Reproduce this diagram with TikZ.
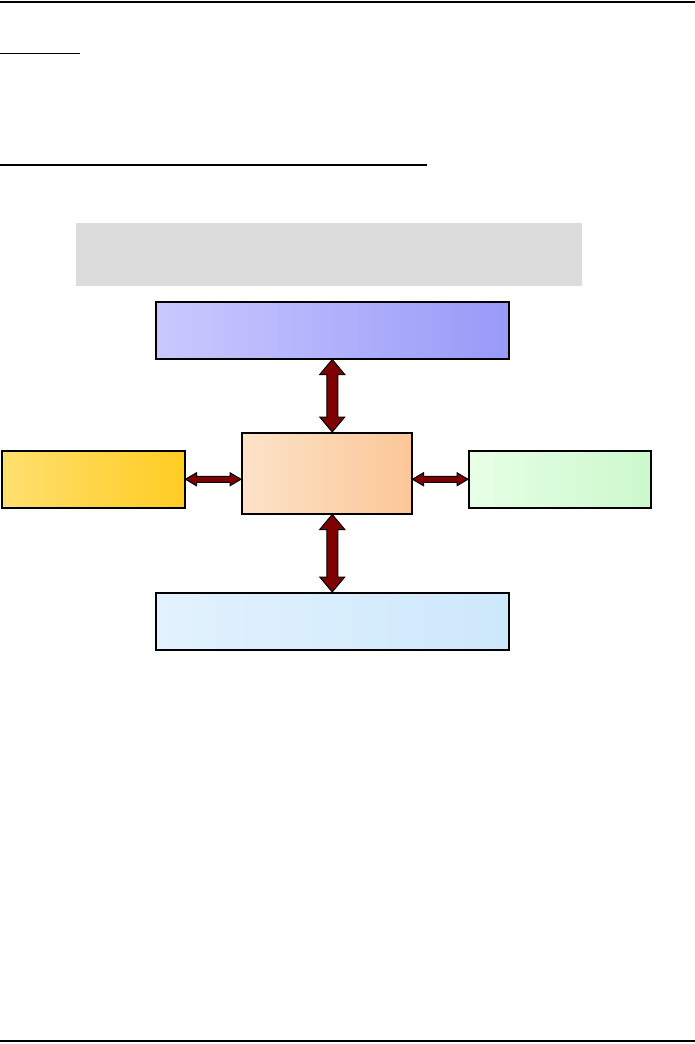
\documentclass[tikz,border=0pt]{standalone}
\usetikzlibrary{calc}
\definecolor{arrowred}{HTML}{7F0000}
\begin{document}
\begin{tikzpicture}[x=1pt,y=-1pt,
  box/.style={draw=black,line width=1.5pt,inner sep=0pt,anchor=north west},
  rule/.style={draw=black},
  blockarrow/.style={draw=black,fill=arrowred,line width=1pt,line join=miter}]
\useasboundingbox (0,0) rectangle (695,1044);
% page rules
\draw[rule,line width=2pt] (0,1.5) -- (695,1.5);
\draw[rule,line width=1pt] (0,53) -- (80,53);
\draw[rule,line width=2pt] (0,165) -- (427,165);
\draw[rule,line width=2pt] (0,1041) -- (695,1041);
% grey banner
\fill[fill={rgb,255:red,220;green,220;blue,220}] (76,223) rectangle (582,286);
% boxes
\node[box,minimum width=353pt,minimum height=57pt,left color={rgb,255:red,201;green,201;blue,255},right color={rgb,255:red,153;green,153;blue,248}] (top) at (155,301) {};
\node[box,minimum width=170pt,minimum height=81pt,left color={rgb,255:red,253;green,227;blue,201},right color={rgb,255:red,251;green,199;blue,151}] (center) at (241,432) {};
\node[box,minimum width=183pt,minimum height=57pt,left color={rgb,255:red,255;green,224;blue,112},right color={rgb,255:red,255;green,204;blue,34}] (left) at (1,450) {};
\node[box,minimum width=182pt,minimum height=57pt,left color={rgb,255:red,230;green,255;blue,230},right color={rgb,255:red,204;green,248;blue,204}] (right) at (468,450) {};
\node[box,minimum width=353pt,minimum height=57pt,left color={rgb,255:red,227;green,242;blue,254},right color={rgb,255:red,205;green,232;blue,251}] (bottom) at (155,592) {};
% vertical double block arrows
\draw[blockarrow] let \p1=(top.south), \p2=(center.north) in
  (\x1,\y1) -- (\x1+12.5pt,\y1-15pt) -- (\x1+5.5pt,\y1-15pt) -- (\x1+5.5pt,\y2+15pt) -- (\x1+12.5pt,\y2+15pt) -- (\x1,\y2)
  -- (\x1-12.5pt,\y2+15pt) -- (\x1-5.5pt,\y2+15pt) -- (\x1-5.5pt,\y1-15pt) -- (\x1-12.5pt,\y1-15pt) -- cycle;
\draw[blockarrow] let \p1=(bottom.north), \p2=(center.south) in
  (\x1,\y2) -- (\x1+12.5pt,\y2-15pt) -- (\x1+5.5pt,\y2-15pt) -- (\x1+5.5pt,\y1+15pt) -- (\x1+12.5pt,\y1+15pt) -- (\x1,\y1)
  -- (\x1-12.5pt,\y1+15pt) -- (\x1-5.5pt,\y1+15pt) -- (\x1-5.5pt,\y2-15pt) -- (\x1-12.5pt,\y2-15pt) -- cycle;
% horizontal double block arrows
\draw[blockarrow] let \p1=(left.east), \p2=(center.west) in
  (\x1,\y1) -- (\x1+11pt,\y1+6.5pt) -- (\x1+11pt,\y1+3pt) -- (\x2-11pt,\y1+3pt) -- (\x2-11pt,\y1+6.5pt) -- (\x2,\y1)
  -- (\x2-11pt,\y1-6.5pt) -- (\x2-11pt,\y1-3pt) -- (\x1+11pt,\y1-3pt) -- (\x1+11pt,\y1-6.5pt) -- cycle;
\draw[blockarrow] let \p1=(right.west), \p2=(center.east) in
  (\x2,\y1) -- (\x2+11pt,\y1+6.5pt) -- (\x2+11pt,\y1+3pt) -- (\x1-11pt,\y1+3pt) -- (\x1-11pt,\y1+6.5pt) -- (\x1,\y1)
  -- (\x1-11pt,\y1-6.5pt) -- (\x1-11pt,\y1-3pt) -- (\x2+11pt,\y1-3pt) -- (\x2+11pt,\y1-6.5pt) -- cycle;
\end{tikzpicture}
\end{document}
